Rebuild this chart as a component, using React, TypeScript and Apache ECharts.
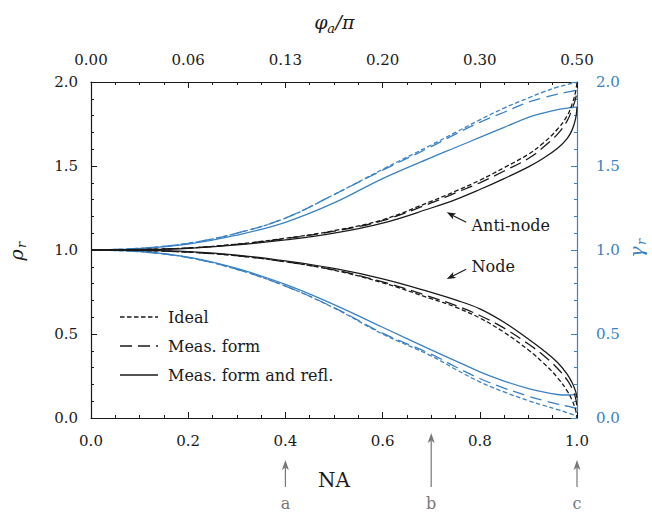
import React, { useEffect, useRef } from "react";
import * as echarts from "echarts";

// ---------- data ----------
const NA = [0, 0.1, 0.2, 0.3, 0.4, 0.5, 0.6, 0.7, 0.75, 0.8, 0.85, 0.9, 0.93, 0.96, 0.98, 0.99, 0.997, 1.0];

// rho_r (left axis, black) — anti-node branch
const rhoAntiIdeal = [1.0, 1.003, 1.012, 1.035, 1.07, 1.115, 1.18, 1.29, 1.35, 1.415, 1.49, 1.57, 1.635, 1.72, 1.8, 1.87, 1.94, 2.0];
const rhoAntiMeas = [1.0, 1.003, 1.012, 1.034, 1.068, 1.112, 1.175, 1.28, 1.34, 1.4, 1.47, 1.545, 1.61, 1.69, 1.77, 1.84, 1.9, 1.95];
const rhoAntiRefl = [1.0, 1.002, 1.01, 1.03, 1.06, 1.1, 1.16, 1.25, 1.3, 1.36, 1.425, 1.495, 1.545, 1.605, 1.665, 1.715, 1.78, 1.85];
// rho_r — node branch
const rhoNodeIdeal = [1.0, 0.997, 0.987, 0.966, 0.93, 0.88, 0.805, 0.71, 0.66, 0.595, 0.51, 0.405, 0.33, 0.24, 0.16, 0.105, 0.05, 0.0];
const rhoNodeMeas = [1.0, 0.997, 0.987, 0.966, 0.93, 0.882, 0.81, 0.72, 0.67, 0.61, 0.535, 0.44, 0.375, 0.295, 0.225, 0.175, 0.12, 0.06];
const rhoNodeRefl = [1.0, 0.998, 0.99, 0.97, 0.935, 0.89, 0.828, 0.748, 0.703, 0.65, 0.57, 0.47, 0.405, 0.33, 0.26, 0.21, 0.16, 0.12];

// gamma_r (right axis, blue) — anti-node branch
const gamAntiIdeal = [1.0, 1.01, 1.04, 1.1, 1.19, 1.33, 1.48, 1.625, 1.7, 1.775, 1.845, 1.905, 1.94, 1.97, 1.985, 1.992, 1.997, 2.0];
const gamAntiMeas = [1.0, 1.01, 1.04, 1.1, 1.19, 1.33, 1.475, 1.615, 1.69, 1.76, 1.82, 1.88, 1.905, 1.928, 1.94, 1.946, 1.95, 1.952];
const gamAntiRefl = [1.0, 1.008, 1.035, 1.088, 1.165, 1.28, 1.425, 1.55, 1.61, 1.67, 1.73, 1.79, 1.815, 1.835, 1.845, 1.848, 1.85, 1.85];
// gamma_r — node branch
const gamNodeIdeal = [1.0, 0.99, 0.955, 0.885, 0.785, 0.655, 0.5, 0.37, 0.29, 0.215, 0.155, 0.103, 0.076, 0.05, 0.032, 0.022, 0.012, 0.005];
const gamNodeMeas = [1.0, 0.99, 0.955, 0.885, 0.785, 0.657, 0.505, 0.38, 0.305, 0.235, 0.178, 0.13, 0.105, 0.083, 0.07, 0.064, 0.06, 0.058];
const gamNodeRefl = [1.0, 0.992, 0.957, 0.89, 0.795, 0.675, 0.54, 0.405, 0.34, 0.275, 0.22, 0.175, 0.155, 0.14, 0.137, 0.138, 0.14, 0.14];

const topTickLabels = ["0.00", "0.06", "0.13", "0.20", "0.30", "0.50"];
const legendNames = ["Ideal", "Meas. form", "Meas. form and refl."];
const markerNA = [0.4, 0.7, 1.0];
const markerLabels = ["a", "b", "c"];
const annLabels = ["Anti-node", "Node"];
const annTip = [[0.732, 1.224], [0.732, 0.827]];
const annTail = [[0.772, 1.165], [0.772, 0.885]];
const annText = [[0.783, 1.143], [0.783, 0.902]];

// ---------- styles ----------
const FONT = "DejaVu Serif";
const BLACK = "#1a1a1a";
const BLUE = "#3a82c4";
const GRAY = "#777777";
const SHORT = [4.5, 2.5];
const LONG = [12, 6];
const DASHES: any[] = [SHORT, LONG, null];

function mkSeries(name: string, vals: number[], color: string, dash: any, yAxisIndex: number, z: number) {
  return {
    name,
    type: "line",
    xAxisIndex: 0,
    yAxisIndex,
    data: NA.map((x, i) => [x, vals[i]]),
    symbol: "none",
    showSymbol: false,
    smooth: 0.4,
    silent: true,
    z,
    lineStyle: { color, width: 1.3, type: dash ?? "solid" },
    itemStyle: { color },
  };
}

function arrow(x1: number, y1: number, x2: number, y2: number, color: string, head = 9, half = 3.3) {
  const dx = x2 - x1, dy = y2 - y1;
  const L = Math.hypot(dx, dy);
  const ux = dx / L, uy = dy / L;
  const nx = -uy, ny = ux;
  const bx = x2 - ux * head, by = y2 - uy * head;
  const mx = x2 - ux * head * 0.75, my = y2 - uy * head * 0.75;
  return [
    { type: "line", silent: true, shape: { x1, y1, x2: mx, y2: my }, style: { stroke: color, lineWidth: 1.2 } },
    {
      type: "polygon",
      silent: true,
      shape: { points: [[x2, y2], [bx + nx * half, by + ny * half], [mx, my], [bx - nx * half, by - ny * half]] },
      style: { fill: color },
    },
  ];
}

function txt(text: string, x: number, y: number, size: number, color: string, align = "center", italic = false) {
  return {
    type: "text",
    silent: true,
    x,
    y,
    style: {
      text,
      fill: color,
      fontSize: size,
      fontFamily: FONT,
      fontStyle: italic ? "italic" : "normal",
      align,
      verticalAlign: "middle",
      textAlign: align,
      textVerticalAlign: "middle",
    },
  };
}

export default function App() {
  const ref = useRef<HTMLDivElement>(null);

  useEffect(() => {
    document.body.style.margin = "0";
    const chart = echarts.init(ref.current!, null, { renderer: "svg" });

    const mkAxis = (pos: string, max: number, interval: number, minorSplit: number, color: string, formatter: any, margin: number) => ({
      type: "value",
      position: pos,
      min: 0,
      max,
      interval,
      splitLine: { show: false },
      axisLine: { show: true, onZero: false, lineStyle: { color, width: 1.2 } },
      axisTick: { show: true, inside: true, length: 6, lineStyle: { color } },
      minorTick: { show: true, splitNumber: minorSplit, length: 3, lineStyle: { color } },
      axisLabel: { formatter, margin, fontFamily: FONT, fontSize: 15, color },
    });

    const option: any = {
      animation: false,
      backgroundColor: "#ffffff",
      grid: { left: 91, right: 75, top: 82, bottom: 97, containLabel: false },
      xAxis: [
        mkAxis("bottom", 1, 0.2, 4, BLACK, (v: number) => v.toFixed(1), 15),
        mkAxis("top", 1, 0.2, 4, BLACK, (v: number) => topTickLabels[Math.round(v / 0.2)] ?? "", 15),
      ],
      yAxis: [
        mkAxis("left", 2, 0.5, 5, BLACK, (v: number) => v.toFixed(1), 13),
        mkAxis("right", 2, 0.5, 5, BLUE, (v: number) => v.toFixed(1), 19),
      ],
      series: [
        mkSeries("γ ideal", gamAntiIdeal, BLUE, SHORT, 1, 2),
        mkSeries("γ meas", gamAntiMeas, BLUE, LONG, 1, 2),
        mkSeries("γ refl", gamAntiRefl, BLUE, null, 1, 2),
        mkSeries("γ ideal", gamNodeIdeal, BLUE, SHORT, 1, 2),
        mkSeries("γ meas", gamNodeMeas, BLUE, LONG, 1, 2),
        mkSeries("γ refl", gamNodeRefl, BLUE, null, 1, 2),
        mkSeries(legendNames[0], rhoAntiIdeal, BLACK, SHORT, 0, 3),
        mkSeries(legendNames[1], rhoAntiMeas, BLACK, LONG, 0, 3),
        mkSeries(legendNames[2], rhoAntiRefl, BLACK, null, 0, 3),
        mkSeries(legendNames[0], rhoNodeIdeal, BLACK, SHORT, 0, 3),
        mkSeries(legendNames[1], rhoNodeMeas, BLACK, LONG, 0, 3),
        mkSeries(legendNames[2], rhoNodeRefl, BLACK, null, 0, 3),
      ],
    };
    chart.setOption(option);

    const px = (p: number[]) => chart.convertToPixel({ xAxisIndex: 0, yAxisIndex: 0 }, p) as number[];
    const els: any[] = [];

    // top title phi_a / pi
    const [cx0] = px([0.5, 0]);
    els.push(txt("φ", cx0 - 13, 22, 19, BLACK, "center", true));
    els.push(txt("a", cx0 - 3, 28, 13, BLACK, "center", true));
    els.push(txt("/π", cx0 + 11, 22, 19, BLACK, "center", true));

    // bottom axis name
    els.push(txt("NA", cx0, 480, 20, BLACK, "center"));

    // left y name rho_r (rotated)
    const [, cy0] = px([0, 1]);
    els.push({
      type: "group",
      x: 16,
      y: cy0 + 1,
      rotation: Math.PI / 2,
      children: [txt("ρ", -4, 0, 19, BLACK, "center", true), txt("r", 6, 5, 13, BLACK, "center", true)],
    });
    // right y name gamma_r
    els.push({
      type: "group",
      x: 636,
      y: cy0 - 2,
      rotation: Math.PI / 2,
      children: [txt("γ", -4, 0, 19, BLUE, "center", true), txt("r", 6, 5, 13, BLUE, "center", true)],
    });

    // legend (drawn by hand to match the line-only keys)
    legendNames.forEach((name, i) => {
      const y = 317 + i * 29;
      const dash = DASHES[i];
      els.push({
        type: "line",
        silent: true,
        shape: { x1: 120, y1: y, x2: 158, y2: y },
        style: { stroke: BLACK, lineWidth: 1.3, lineDash: dash ?? null },
      });
      els.push(txt(name, 168, y, 16, BLACK, "left"));
    });

    // markers a, b, c below the axis
    const tipY = [460, 433, 460];
    markerNA.forEach((v, i) => {
      const [mx] = px([v, 0]);
      els.push(...arrow(mx, 487, mx, tipY[i], GRAY, 10, 3.5));
      els.push(txt(markerLabels[i], mx, 503, 16, GRAY, "center"));
    });

    // annotations
    annLabels.forEach((lab, i) => {
      const tip = px(annTip[i]);
      const tail = px(annTail[i]);
      const tp = px(annText[i]);
      els.push(...arrow(tail[0], tail[1], tip[0], tip[1], BLACK, 9, 3.3));
      els.push(txt(lab, tp[0], tp[1], 16, BLACK, "left"));
    });

    chart.setOption({ graphic: els });

    return () => chart.dispose();
  }, []);

  return <div ref={ref} style={{ width: 652, height: 515 }} />;
}
